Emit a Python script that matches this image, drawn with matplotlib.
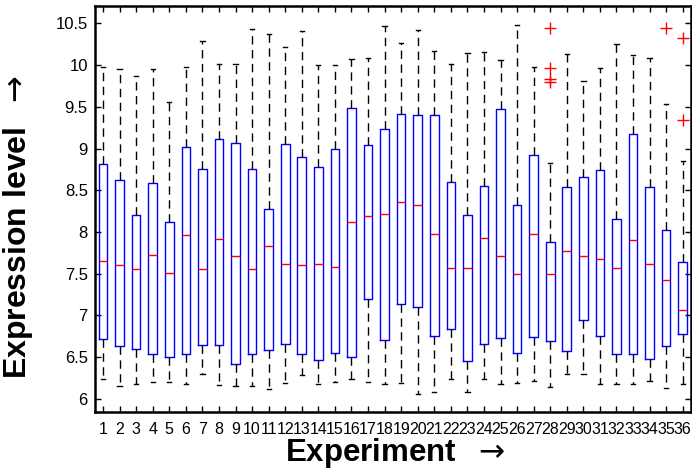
import matplotlib
matplotlib.use("Agg")
import matplotlib.pyplot as plt

plt.rcParams['font.family'] = ['Liberation Sans', 'DejaVu Sans']

experiments = list(range(1, 37))
whisker_low = [6.23, 6.15, 6.17, 6.20, 6.20, 6.17, 6.29, 6.16, 6.15, 6.15, 6.11, 6.19,
               6.28, 6.18, 6.20, 6.23, 6.20, 6.17, 6.19, 6.06, 6.08, 6.23, 6.08, 6.24,
               6.17, 6.19, 6.21, 6.14, 6.29, 6.29, 6.17, 6.17, 6.18, 6.21, 6.13, 6.18]
q1 = [6.72, 6.63, 6.60, 6.53, 6.50, 6.53, 6.64, 6.64, 6.42, 6.54, 6.58, 6.66,
      6.54, 6.46, 6.55, 6.50, 7.19, 6.70, 7.14, 7.10, 6.75, 6.84, 6.45, 6.66,
      6.73, 6.55, 6.74, 6.69, 6.57, 6.94, 6.75, 6.53, 6.54, 6.48, 6.63, 6.77]
medians = [7.65, 7.60, 7.55, 7.72, 7.51, 7.96, 7.56, 7.91, 7.71, 7.56, 7.83, 7.62,
           7.60, 7.62, 7.58, 8.12, 8.19, 8.22, 8.36, 8.32, 7.97, 7.57, 7.57, 7.93,
           7.71, 7.50, 7.97, 7.50, 7.77, 7.71, 7.68, 7.57, 7.90, 7.62, 7.42, 7.06]
q3 = [8.82, 8.62, 8.20, 8.59, 8.12, 9.02, 8.76, 9.11, 9.07, 8.76, 8.28, 9.06,
      8.90, 8.78, 8.99, 9.49, 9.04, 9.24, 9.41, 9.40, 9.40, 8.60, 8.20, 8.55,
      9.47, 8.32, 8.92, 7.88, 8.54, 8.66, 8.74, 8.16, 9.18, 8.54, 8.02, 7.64]
whisker_high = [9.98, 9.96, 9.87, 9.96, 9.56, 9.98, 10.29, 10.02, 10.01, 10.43, 10.37, 10.22,
                10.41, 10.00, 10.00, 10.08, 10.09, 10.47, 10.27, 10.42, 10.17, 10.02, 10.15, 10.16,
                10.06, 10.48, 9.98, 8.83, 10.14, 9.81, 9.97, 10.25, 10.12, 10.09, 9.53, 8.85]
outliers = {28: [10.45, 9.97, 9.84, 9.80], 35: [10.44], 36: [10.32, 9.34]}
y_ticks = [6, 6.5, 7, 7.5, 8, 8.5, 9, 9.5, 10, 10.5]
y_tick_labels = ["6", "6.5", "7", "7.5", "8", "8.5", "9", "9.5", "10", "10.5"]

stats = []
for i, e in enumerate(experiments):
    stats.append({
        "whislo": whisker_low[i], "q1": q1[i], "med": medians[i],
        "q3": q3[i], "whishi": whisker_high[i], "fliers": outliers.get(e, []),
    })

fig = plt.figure(figsize=(6.92, 4.71), dpi=100)
ax = fig.add_axes([0.1369, 0.1253, 0.8617, 0.862])

ax.bxp(stats, positions=experiments, widths=0.52, capwidths=0.26,
       boxprops=dict(color="#0000ff", linewidth=1.0),
       medianprops=dict(color="#ff0000", linewidth=1.0),
       whiskerprops=dict(color="black", linewidth=1.0, linestyle=(0, (6, 4))),
       capprops=dict(color="black", linewidth=1.0),
       flierprops=dict(marker="+", markeredgecolor="#ff0000", markersize=8,
                       markeredgewidth=1.0, linestyle="none"))

ax.set_xlim(0.5, 36.5)
ax.set_ylim(5.84, 10.71)
ax.set_xticks(experiments)
ax.set_xticklabels([str(e) for e in experiments], fontsize=11.5)
ax.set_yticks(y_ticks)
ax.set_yticklabels(y_tick_labels, fontsize=12)
ax.tick_params(direction="in", top=True, right=True, length=4, width=1)
ax.tick_params(axis="x", pad=7)
ax.tick_params(axis="y", pad=5)
for s in ax.spines.values():
    s.set_linewidth(1.8)

ax.set_xlabel(r"Experiment  $\rightarrow$", fontsize=22.5, fontweight="bold")
ax.set_ylabel(r"Expression level  $\rightarrow$", fontsize=23, fontweight="bold")
ax.xaxis.set_label_coords(0.503, -0.058)
ax.yaxis.set_label_coords(-0.100, 0.456)

fig.savefig("out.png", dpi=100)
